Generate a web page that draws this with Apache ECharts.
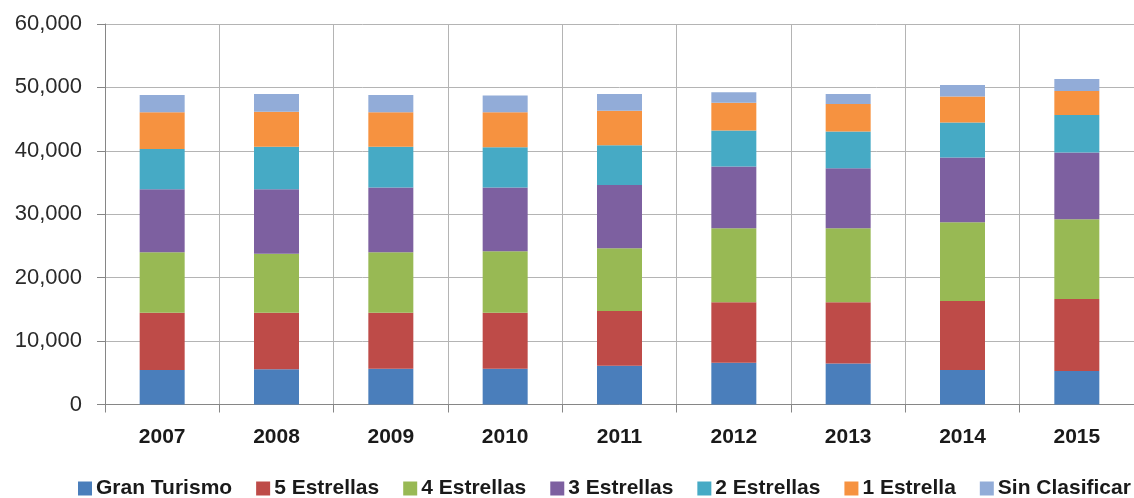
<!DOCTYPE html>
<html>
<head>
<meta charset="utf-8">
<script src="https://cdn.jsdelivr.net/npm/echarts@6/dist/echarts.min.js"></script>
<style>
  html, body { margin: 0; padding: 0; background: #fff; }
  #main { width: 1134px; height: 498px; }
</style>
</head>
<body>
<div id="main"></div>
<script>
// datos
const years = ['2007', '2008', '2009', '2010', '2011', '2012', '2013', '2014', '2015'];
const granTurismo = [5440, 5550, 5650, 5650, 6120, 6590, 6450, 5440, 5280];
const cincoEstrellas = [9040, 8930, 8830, 8830, 8630, 9530, 9670, 10880, 11360];
const cuatroEstrellas = [9530, 9310, 9530, 9680, 9890, 11670, 11670, 12420, 12570];
const tresEstrellas = [9930, 10150, 10190, 10040, 9980, 9720, 9470, 10190, 10510];
const dosEstrellas = [6360, 6720, 6460, 6370, 6260, 5680, 5770, 5520, 5940];
const unaEstrella = [5790, 5520, 5430, 5520, 5460, 4410, 4370, 4100, 3790];
const sinClasificar = [2730, 2790, 2730, 2620, 2630, 1640, 1570, 1840, 1890];

const names = ['Gran Turismo', '5 Estrellas', '4 Estrellas', '3 Estrellas', '2 Estrellas', '1 Estrella', 'Sin Clasificar'];
const colors = ['#4a7ebb', '#be4b48', '#98b954', '#7d60a0', '#46aac5', '#f69240', '#92acd8'];
const values = [granTurismo, cincoEstrellas, cuatroEstrellas, tresEstrellas, dosEstrellas, unaEstrella, sinClasificar];

const chart = echarts.init(document.getElementById('main'));

const option = {
  animation: false,
  color: colors,
  grid: {
    left: 105,
    top: 24,
    width: 1044,
    height: 380.5
  },
  legend: {
    top: 473,
    left: 73,
    width: 1100,
    padding: [5, 0, 5, 5],
    itemWidth: 14,
    itemHeight: 14,
    itemGap: 24,
    icon: 'rect',
    textStyle: {
      fontFamily: 'Liberation Sans, Arial, sans-serif',
      fontWeight: 'bold',
      fontSize: 21,
      color: '#1a1a1a',
      padding: [0, 0, 0, -1]
    }
  },
  xAxis: {
    type: 'category',
    data: years,
    axisLine: { lineStyle: { color: '#868686', width: 1 } },
    axisTick: { show: true, length: 8, lineStyle: { color: '#868686' } },
    splitLine: { show: true, lineStyle: { color: '#b4b4b4', width: 1 } },
    axisLabel: {
      margin: 22,
      fontFamily: 'Liberation Sans, Arial, sans-serif',
      fontWeight: 'bold',
      fontSize: 21,
      color: '#1a1a1a'
    }
  },
  yAxis: {
    type: 'value',
    min: 0,
    max: 60000,
    interval: 10000,
    axisLine: { show: true, lineStyle: { color: '#868686' } },
    axisTick: { show: true, length: 8, lineStyle: { color: '#868686' } },
    splitLine: { lineStyle: { color: '#b4b4b4', width: 1 } },
    axisLabel: {
      margin: 23,
      fontFamily: 'Liberation Sans, Arial, sans-serif',
      fontSize: 22,
      color: '#2a2a2a',
      formatter: v => v.toLocaleString('en-US')
    }
  },
  series: names.map((n, i) => ({
    name: n,
    type: 'bar',
    stack: 'total',
    barWidth: 45,
    data: values[i]
  }))
};

chart.setOption(option);
</script>
</body>
</html>
